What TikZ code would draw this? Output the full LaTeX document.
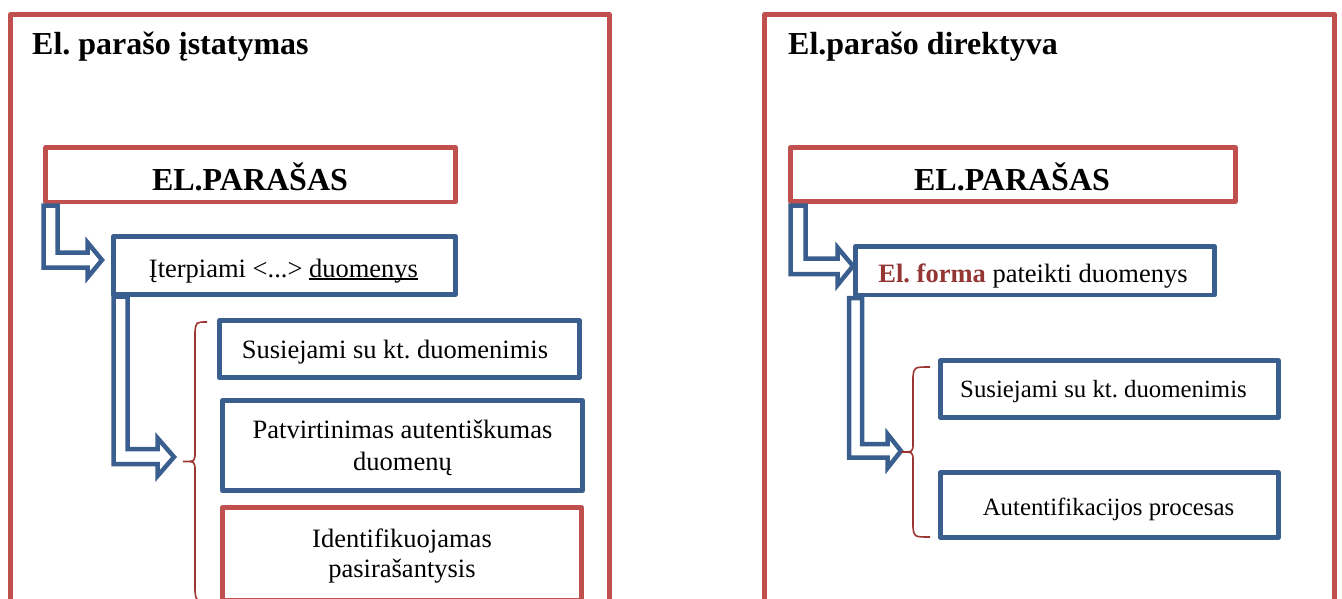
\documentclass[tikz,border=0pt]{standalone}
\usepackage{fontspec}
\setmainfont{Liberation Serif}
\usetikzlibrary{calc}
\definecolor{fr}{HTML}{C0504D}
\definecolor{bl}{HTML}{3A5F8E}
\definecolor{br}{HTML}{9B3532}
\definecolor{ft}{HTML}{943634}
\newcommand\ulword[1]{\setbox0\hbox{#1}\rlap{\rule[-2.6pt]{\wd0}{1.3pt}}#1}
\AtBeginDocument{\frenchspacing}
\begin{document}
\begin{tikzpicture}[x=1pt,y=-1pt,
  frame/.style={draw=fr,line width=5pt,line join=round},
  redbox/.style={draw=fr,line width=4.5pt,fill=white,line join=round,inner sep=0pt,outer sep=0pt},
  bluebox/.style={draw=bl,line width=4.5pt,fill=white,line join=round,inner sep=0pt,outer sep=0pt},
  txt/.style={anchor=base,inner sep=0pt,font=\fontsize{26.5}{31}\selectfont\frenchspacing},
  smalltxt/.style={anchor=base,inner sep=0pt,font=\fontsize{24.8}{30}\selectfont\frenchspacing},
  bigtxt/.style={anchor=base,inner sep=0pt,font=\fontsize{32}{38}\selectfont\bfseries\frenchspacing},
  barrow/.style={draw=bl,line width=4.5pt,line join=miter},
  brace/.style={draw=br,line width=1.6pt}]
\useasboundingbox (0,0) rectangle (1342,599);
\clip (0,0) rectangle (1342,599);
\setlength\tabcolsep{0pt}
% outer frames
\draw[frame] (10.5,650) -- (10.5,14.5) -- (609.5,14.5) -- (609.5,650);
\draw[frame] (764.5,650) -- (764.5,14.5) -- (1334.5,14.5) -- (1334.5,650);
\node[bigtxt,anchor=base west] (titleA) at (32,55) {El. parašo įstatymas};
\node[bigtxt,anchor=base west] (titleB) at (788,55) {El.parašo direktyva};

% ---------- left panel ----------
\node[redbox,minimum width=410pt,minimum height=54.5pt] (elpA) at (250.5,174.75) {};
\node[bluebox,minimum width=342pt,minimum height=58pt] (iterp) at (284.5,265.5) {};
\node[bluebox,minimum width=360pt,minimum height=57pt] (susA) at (399.5,349) {};
\node[bluebox,minimum width=360pt,minimum height=90pt] (patv) at (402.5,445.5) {};
\node[redbox,minimum width=359pt,minimum height=92.5pt] (ident) at (402,553.75) {};

\node[bigtxt] (telpA) at ($(elpA.center)+(-0.5,15.25)$) {EL.PARAŠAS};
\node[txt] (titerp) at ($(iterp.center)+(-1,11.5)$) {Įterpiami <...> \ulword{duomenys}};
\node[txt] (tsusA) at ($(susA.center)+(-4.5,9)$) {Susiejami su kt. duomenimis};
\node[txt,font=\fontsize{26.5}{32}\selectfont] (tpatv) at ($(patv.center)+(0,-7.5)$)
  {\begin{tabular}[t]{c}Patvirtinimas autentiškumas\\duomenų\end{tabular}};
\node[txt,font=\fontsize{26.5}{30}\selectfont] (tident) at ($(ident.center)+(0,-6.75)$)
  {\begin{tabular}[t]{c}Identifikuojamas\\pasirašantysis\end{tabular}};

% block arrows
\draw[barrow] (43.5,205.5) -- (43.5,267.5) -- (87.5,267.5) -- (87.5,277.5) -- (102,260)
  -- (87.5,242.5) -- (87.5,252.5) -- (57.5,252.5) -- (57.5,205.5) -- cycle;
\draw[barrow] (113.5,296.5) -- (113.5,464) -- (157.5,464) -- (157.5,476) -- (174,457)
  -- (157.5,438) -- (157.5,449) -- (127.5,449) -- (127.5,296.5) -- cycle;

% brace
\coordinate (bAtop) at (207,322);
\coordinate (bAmid) at (183,461.5);
\coordinate (bAbot) at (207,601);
\draw[brace] (bAtop) .. controls (196,322) .. (195,332) -- (195,452)
  .. controls (195,461.5) .. (bAmid) .. controls (195,461.5) .. (195,471) -- (195,591)
  .. controls (196,601) .. (bAbot);

% ---------- right panel ----------
\node[redbox,minimum width=445pt,minimum height=54pt] (elpB) at (1013,174.5) {};
\node[bluebox,minimum width=359pt,minimum height=48.5pt] (forma) at (1035,270.75) {};
\node[bluebox,minimum width=338pt,minimum height=57pt] (susB) at (1109.5,389) {};
\node[bluebox,minimum width=338pt,minimum height=65pt] (aut) at (1109.5,505) {};

\node[bigtxt] (telpB) at ($(elpB.center)+(-1,15.5)$) {EL.PARAŠAS};
\node[txt] (tforma) at ($(forma.center)+(-2,11.25)$) {\textcolor{ft}{\bfseries El. forma} pateikti duomenys};
\node[smalltxt] (tsusB) at ($(susB.center)+(-6,8)$) {Susiejami su kt. duomenimis};
\node[smalltxt] (taut) at ($(aut.center)+(-1,10)$) {Autentifikacijos procesas};

\draw[barrow] (790.5,205.5) -- (790.5,274) -- (837.5,274) -- (837.5,285) -- (853,266)
  -- (837.5,247.5) -- (837.5,258.5) -- (805.5,258.5) -- (805.5,205.5) -- cycle;
\draw[barrow] (849,298) -- (849,457.5) -- (887.5,457.5) -- (887.5,468) -- (901,451)
  -- (887.5,434) -- (887.5,444) -- (862,444) -- (862,298) -- cycle;

\coordinate (bBtop) at (930,367);
\coordinate (bBmid) at (901,452);
\coordinate (bBbot) at (930,537);
\draw[brace] (bBtop) .. controls (914,367) .. (913,377) -- (913,443)
  .. controls (913,452) .. (bBmid) .. controls (913,452) .. (913,461) -- (913,527)
  .. controls (914,537) .. (bBbot);
\end{tikzpicture}
\end{document}
